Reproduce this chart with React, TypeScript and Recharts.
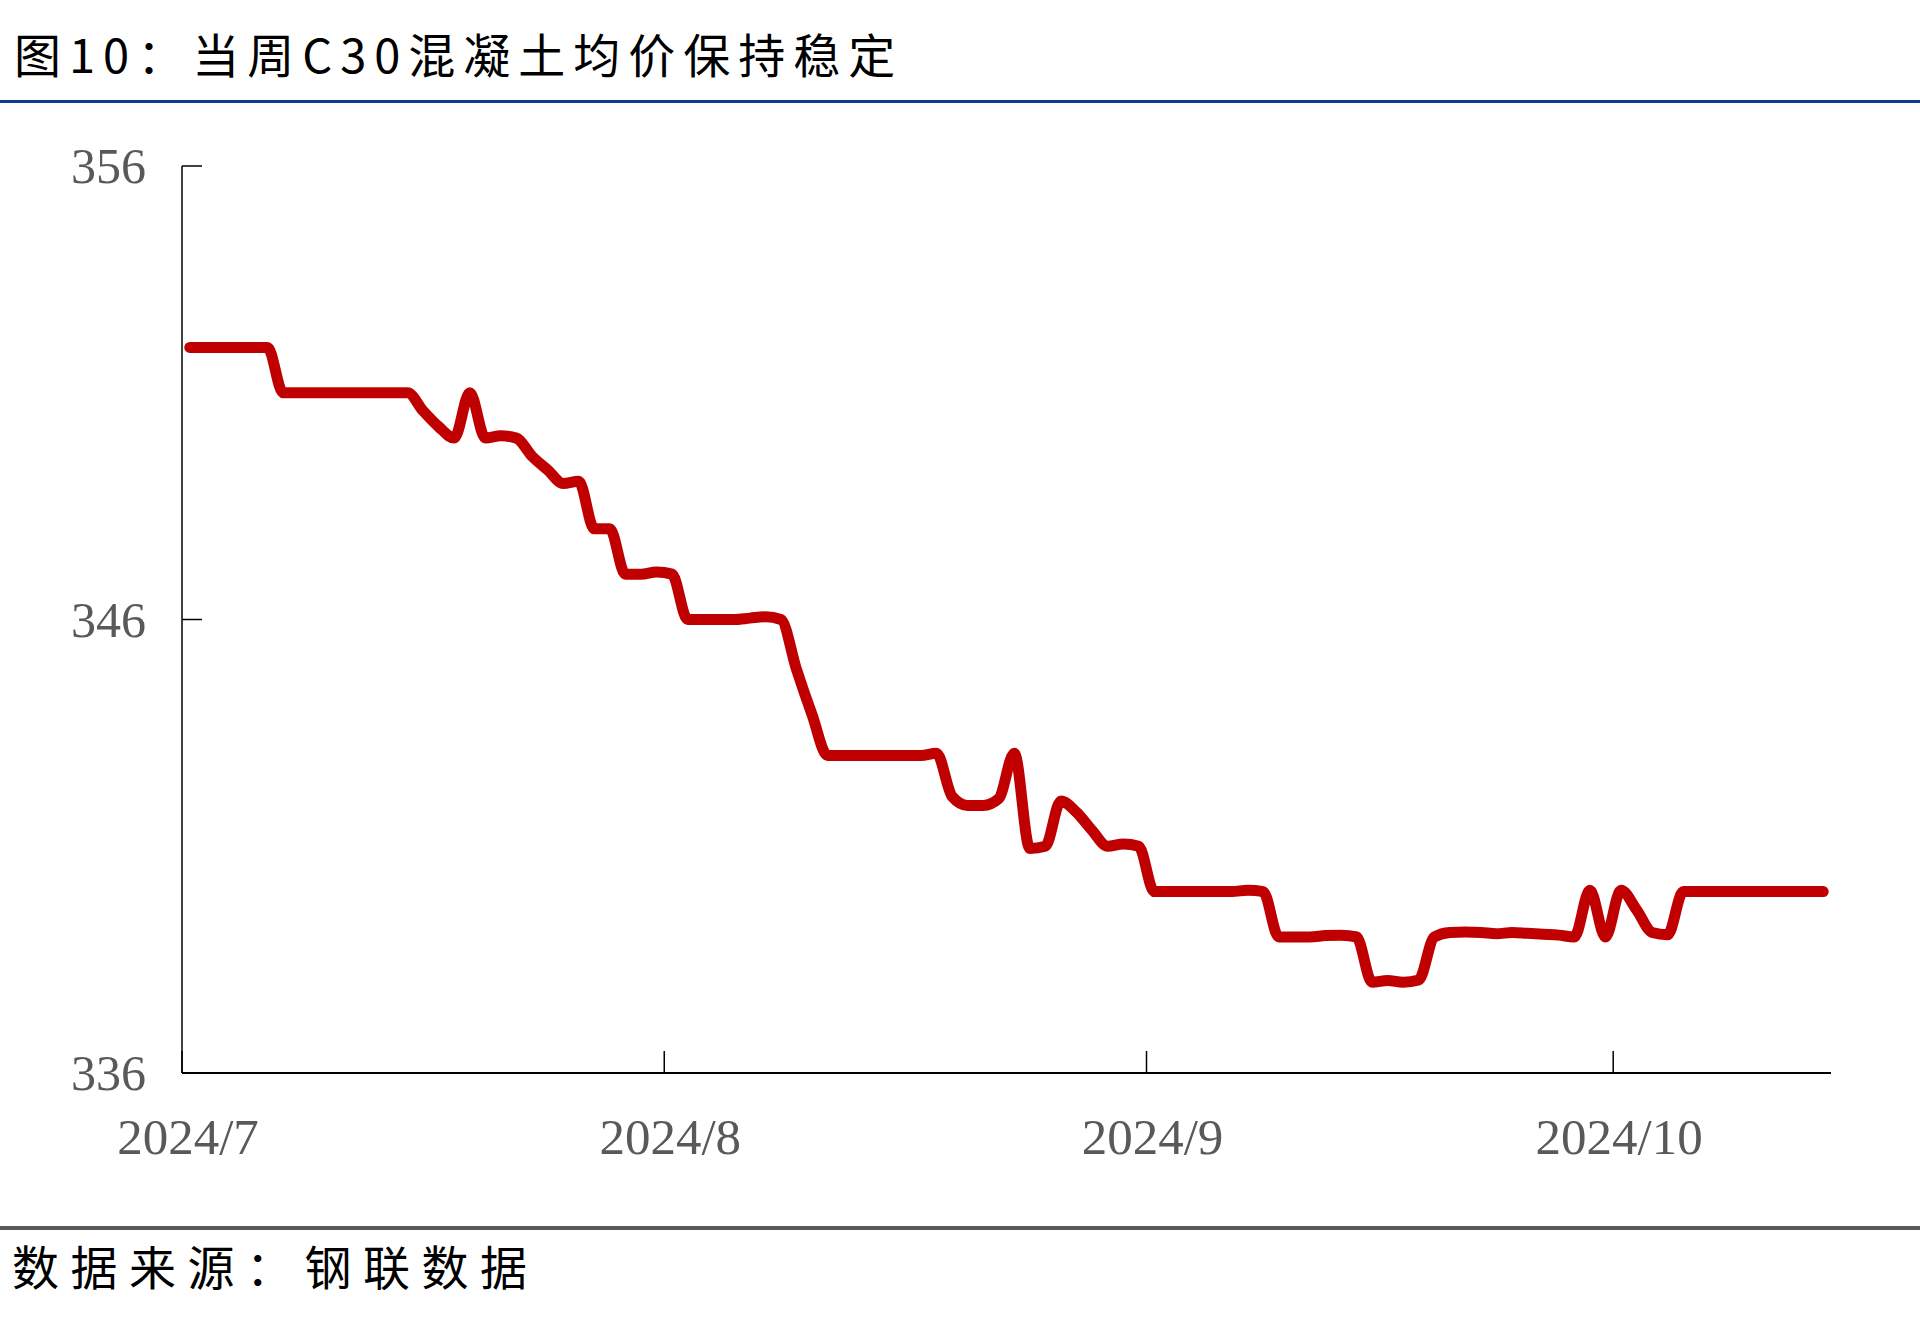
import React from "react";
import { LineChart, Line, XAxis, YAxis } from "recharts";

// one reading per calendar day, starting 2024-07-01
const START_DATE = "2024-07-01";
const priceValues = [
  352, 352, 352, 352, 352, 352, 351, 351, 351, 351,
  351, 351, 351, 351, 351, 350.6, 350.25, 350, 351, 350,
  350.05, 350, 349.6, 349.3, 349, 349.05, 348, 348, 347, 347,
  347.05, 347, 346, 346, 346, 346, 346.03, 346.06, 346, 344.9,
  343.9, 343, 343, 343, 343, 343, 343, 343, 343.05, 342.1,
  341.9, 341.9, 342.05, 343.05, 340.95, 341, 342, 341.75, 341.35, 341,
  341.05, 341, 340, 340, 340, 340, 340, 340, 340.03, 340,
  339, 339, 339, 339.03, 339.04, 339, 338, 338.04, 338, 338.05,
  339, 339.1, 339.11, 339.1, 339.07, 339.1, 339.08, 339.06, 339.04, 339,
  340.03, 339, 340.03, 339.6, 339.1, 339.05, 340, 340, 340, 340,
  340, 340, 340, 340, 340, 340,
];

// day offsets (from START_DATE) of the month ticks
const monthTicks = [0, 31, 62, 92];
const monthLabels = ["2024/7", "2024/8", "2024/9", "2024/10"];
const valueTicks = [336, 346, 356];

const TITLE = "图10：当周C30混凝土均价保持稳定";
const SOURCE = "数据来源：钢联数据";

// points sit in the middle of their day slot
const chartData = priceValues.map((v, i) => ({ day: i + 0.5, v }));

const tickFont = "'Liberation Serif', 'Times New Roman', serif";
const cjkFont = "'Noto Sans CJK SC', 'Noto Sans', sans-serif";

const YTick = (props: any) => {
  const { x, y, payload } = props;
  return (
    <g>
      <line x1={x} x2={x + 20} y1={y} y2={y} stroke="#000" strokeWidth={1.5} />
      <text
        x={x - 36}
        y={y}
        dy={17}
        textAnchor="end"
        fill="#595959"
        fontSize={50}
        fontFamily={tickFont}
      >
        {payload.value}
      </text>
    </g>
  );
};

const XTick = (props: any) => {
  const { x, y, payload, index } = props;
  return (
    <g>
      <line x1={x} x2={x} y1={y} y2={y - 22} stroke="#000" strokeWidth={1.5} />
      <text
        x={x + 6}
        y={y + 81}
        textAnchor="middle"
        fill="#595959"
        fontSize={51}
        fontFamily={tickFont}
      >
        {monthLabels[monthTicks.indexOf(payload.value)] ?? monthLabels[index]}
      </text>
    </g>
  );
};

export default function App() {
  return (
    <div
      style={{
        position: "absolute",
        left: 0,
        top: 0,
        width: 1920,
        height: 1331,
        background: "#fff",
        overflow: "hidden",
      }}
    >
      <div
        style={{
          position: "absolute",
          left: 14,
          top: 25,
          fontFamily: cjkFont,
          fontSize: 47,
          lineHeight: "56px",
          letterSpacing: 8,
          color: "#000",
          whiteSpace: "nowrap",
        }}
      >
        {TITLE}
      </div>
      <div
        style={{
          position: "absolute",
          left: 0,
          top: 100,
          width: 1920,
          height: 3,
          background: "#0B3C8C",
        }}
      />

      <div style={{ position: "absolute", left: 0, top: 0 }}>
        <LineChart
          width={1920}
          height={1331}
          data={chartData}
          margin={{ top: 166, right: 89, bottom: 257, left: 181 }}
        >
          <XAxis
            dataKey="day"
            type="number"
            domain={[0, 106]}
            ticks={monthTicks}
            height={1}
            tickSize={0}
            tickMargin={0}
            tickLine={false}
            axisLine={{ stroke: "#000", strokeWidth: 2 }}
            tick={<XTick />}
            interval={0}
            allowDataOverflow
          />
          <YAxis
            type="number"
            domain={[336, 356]}
            ticks={valueTicks}
            width={1}
            tickSize={0}
            tickMargin={0}
            tickLine={false}
            axisLine={{ stroke: "#000", strokeWidth: 1.5 }}
            tick={<YTick />}
            interval={0}
            allowDataOverflow
          />
          <Line
            type="monotone"
            dataKey="v"
            stroke="#C00000"
            strokeWidth={11}
            strokeLinecap="round"
            strokeLinejoin="round"
            dot={false}
            activeDot={false}
            isAnimationActive={false}
          />
        </LineChart>
      </div>

      <div
        style={{
          position: "absolute",
          left: 0,
          top: 1226,
          width: 1920,
          height: 4,
          background: "#595959",
        }}
      />
      <div
        style={{
          position: "absolute",
          left: 12,
          top: 1236,
          fontFamily: cjkFont,
          fontSize: 47,
          lineHeight: "58px",
          letterSpacing: 11.5,
          color: "#000",
          whiteSpace: "nowrap",
        }}
      >
        {SOURCE}
      </div>
      <span style={{ display: "none" }}>{START_DATE}</span>
    </div>
  );
}
